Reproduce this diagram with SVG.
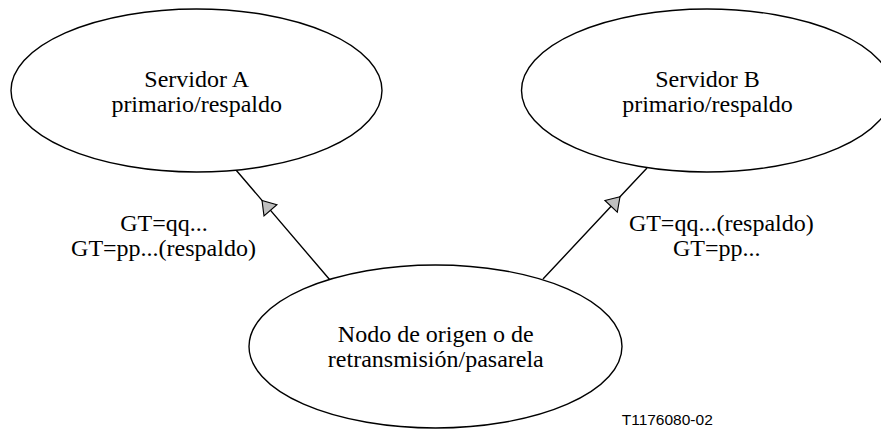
<svg xmlns="http://www.w3.org/2000/svg" width="881" height="438" viewBox="0 0 881 438">
<style>
.node ellipse{fill:#fff;stroke:#000;stroke-width:1.4}
.t{font-family:"Liberation Serif","Times New Roman",serif;font-size:24px;fill:#000;text-anchor:middle}
.conn{fill:none;stroke:#000;stroke-width:1.4;marker-mid:url(#arr)}
.ref{font-family:"Liberation Sans",Arial,sans-serif;font-size:15.5px;fill:#000}
</style>
<defs>
<marker id="arr" markerUnits="userSpaceOnUse" viewBox="-15 -10 17 20" refX="0" refY="0" markerWidth="17" markerHeight="20" orient="auto" overflow="visible">
<path d="M0,0 L-13,-8.5 L-13,8.5 Z" fill="#c0c0c0" stroke="#000" stroke-width="1.1" stroke-linejoin="miter"/>
</marker>
</defs>
<rect width="881" height="438" fill="#fff"/>
<g id="connectors">
<path class="conn" d="M330,280 L262,200.4 L236,170"/>
<path class="conn" d="M543,279 L620,196.8 L647,168"/>
</g>
<g id="serverA" class="node">
<ellipse cx="196.5" cy="90.5" rx="185.5" ry="81.5"/>
<text class="t" x="196.7" y="86.5">Servidor A</text>
<text class="t" x="196.7" y="111.5">primario/respaldo</text>
</g>
<g id="serverB" class="node">
<ellipse cx="707" cy="90.5" rx="185.5" ry="81.5"/>
<text class="t" x="707.5" y="86.5">Servidor B</text>
<text class="t" x="707.5" y="111.5">primario/respaldo</text>
</g>
<g id="origin" class="node">
<ellipse cx="435.5" cy="346.5" rx="186.5" ry="81.5"/>
<text class="t" x="435.8" y="341.7">Nodo de origen o de</text>
<text class="t" x="435.8" y="366.7">retransmisión/pasarela</text>
</g>
<g id="labels">
<text class="t" x="164" y="230.7">GT=qq...</text>
<text class="t" x="163.5" y="255.5">GT=pp...(respaldo)</text>
<text class="t" x="721.3" y="230.7">GT=qq...(respaldo)</text>
<text class="t" x="716.7" y="255.5">GT=pp...</text>
</g>
<text class="ref" x="621.7" y="425">T1176080-02</text>
</svg>
